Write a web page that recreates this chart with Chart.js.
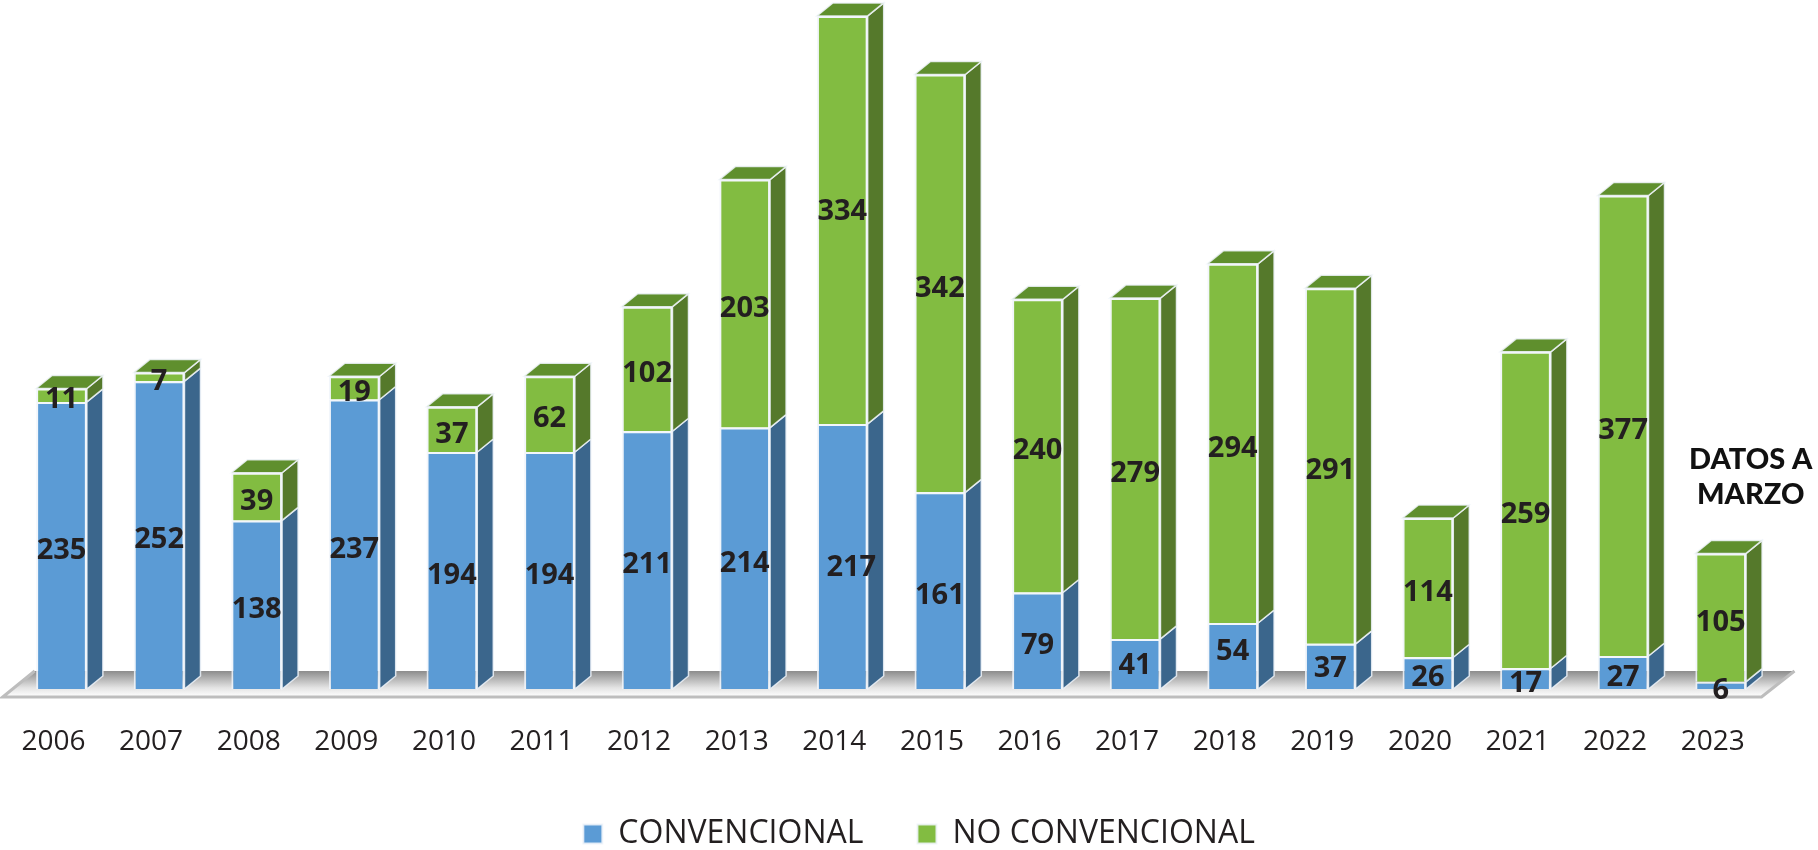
<!DOCTYPE html>
<html lang="es">
<head>
  <meta charset="UTF-8">
  <title>Convencional / No convencional</title>
  <script src="https://cdn.jsdelivr.net/npm/chart.js"></script>
  <style>
    html, body { margin: 0; padding: 0; background: #fff; }
    canvas { display: block; }
  </style>
</head>
<body>
  <canvas id="chart" width="1818" height="850"></canvas>

  <script>
    const years = ['2006','2007','2008','2009','2010','2011','2012','2013','2014','2015','2016','2017','2018','2019','2020','2021','2022','2023'];
    const convencional = [235,252,138,237,194,194,211,214,217,161,79,41,54,37,26,17,27,6];
    const noConvencional = [11,7,39,19,37,62,102,203,334,342,240,279,294,291,114,259,377,105];
    const noteLines = ['DATOS A', 'MARZO'];

    const BLUE = '#5b9bd5', BLUE_SIDE = '#3b668c';
    const GREEN = '#82bc41', GREEN_SIDE = '#55792b', GREEN_TOP = '#5f8f2d';
    const EDGE = 'rgba(240,245,250,0.85)';
    const DEPTH_X = 16, DEPTH_Y = 13;

    // a few labels are not centred on their segment in the original: 'dataset-index': [dx, dy]
    const labelNudges = { '0-8': [9, 6], '1-8': [0, -13], '0-12': [0, -9], '0-11': [0, -3], '0-13': [0, -3] };

    function poly(ctx, pts, fill) {
      ctx.beginPath();
      pts.forEach((p, i) => i ? ctx.lineTo(p[0], p[1]) : ctx.moveTo(p[0], p[1]));
      ctx.closePath();
      ctx.fillStyle = fill;
      ctx.fill();
      ctx.strokeStyle = EDGE;
      ctx.lineWidth = 1.5;
      ctx.stroke();
    }

    // floor + side/top faces of the columns, behind the flat bars
    const fake3d = {
      id: 'fake3d',
      afterLayout(chart) {
        // legend sits right of centre and low in the original
        chart.legend.left += 28;
        chart.legend.right += 28;
        chart.legend.top += 10;
        chart.legend.bottom += 10;
      },
      beforeDatasetsDraw(chart) {
        const { ctx, chartArea } = chart;
        const b = chartArea.bottom;
        ctx.save();
        const grad = ctx.createLinearGradient(0, b - 18, 0, b + 8);
        grad.addColorStop(0, '#8c8c8c');
        grad.addColorStop(0.65, '#e4e4e4');
        grad.addColorStop(1, '#ffffff');
        ctx.beginPath();
        ctx.moveTo(chartArea.left - 10, b + 8);
        ctx.lineTo(chartArea.left + 22, b - 18);
        ctx.lineTo(chartArea.right + 25, b - 18);
        ctx.lineTo(chartArea.right - 8, b + 8);
        ctx.closePath();
        ctx.fillStyle = grad;
        ctx.fill();
        ctx.strokeStyle = '#bdbdbd';
        ctx.lineWidth = 3;
        ctx.beginPath();
        ctx.moveTo(chartArea.left + 22, b - 18);
        ctx.lineTo(chartArea.left - 10, b + 8);
        ctx.lineTo(chartArea.right - 8, b + 8);
        ctx.lineTo(chartArea.right + 25, b - 18);
        ctx.stroke();

        chart.data.datasets.forEach((ds, d) => {
          chart.getDatasetMeta(d).data.forEach(bar => {
            const r = bar.x + bar.width / 2, l = bar.x - bar.width / 2;
            poly(ctx, [[r, bar.y], [r + DEPTH_X, bar.y - DEPTH_Y], [r + DEPTH_X, bar.base - DEPTH_Y], [r, bar.base]],
              d === 0 ? BLUE_SIDE : GREEN_SIDE);
            if (d === 1) {
              poly(ctx, [[l, bar.y], [l + DEPTH_X, bar.y - DEPTH_Y], [r + DEPTH_X, bar.y - DEPTH_Y], [r, bar.y]], GREEN_TOP);
            }
          });
        });
        ctx.restore();
      },
      afterDatasetsDraw(chart) {
        const { ctx } = chart;
        ctx.save();
        ctx.textAlign = 'center';
        ctx.textBaseline = 'middle';
        ctx.fillStyle = '#231f20';
        ctx.font = 'bold 29px "Open Sans"';
        chart.data.datasets.forEach((ds, d) => {
          chart.getDatasetMeta(d).data.forEach((bar, i) => {
            const nudge = labelNudges[d + '-' + i] || [0, 0];
            ctx.fillText(ds.data[i], bar.x + nudge[0], (bar.y + bar.base) / 2 + 5 + nudge[1]);
          });
        });
        // note above the last column
        const last = chart.getDatasetMeta(1).data[years.length - 1];
        ctx.fillStyle = '#111';
        ctx.font = '900 29px Lato';
        noteLines.forEach((t, i) => ctx.fillText(t, last.x + 30, last.y - 94 + i * 35));
        ctx.restore();
      }
    };

    new Chart(document.getElementById('chart'), {
      type: 'bar',
      plugins: [fake3d],
      data: {
        labels: years,
        datasets: [
          { label: 'CONVENCIONAL', data: convencional, backgroundColor: BLUE, borderColor: EDGE, borderWidth: 2 },
          { label: 'NO CONVENCIONAL', data: noConvencional, backgroundColor: GREEN, borderColor: EDGE, borderWidth: 2 }
        ]
      },
      options: {
        responsive: false,
        animation: false,
        devicePixelRatio: 1,
        layout: { padding: { left: 12.7, right: 48.5, top: 0, bottom: 0 } },
        datasets: { bar: { barPercentage: 0.52, categoryPercentage: 1 } },
        scales: {
          x: {
            stacked: true,
            grid: { display: false, drawTicks: false },
            border: { display: false },
            ticks: { padding: 36, labelOffset: -8, color: '#231f20', font: { family: '"Open Sans"', size: 28 }, maxRotation: 0, autoSkip: false },
            afterFit(scale) {
              scale.height = 65;
              scale.paddingLeft = 0;
              scale.paddingRight = 0;
            }
          },
          y: { stacked: true, display: false, min: 0, max: 564 }
        },
        plugins: {
          tooltip: { enabled: false },
          legend: {
            position: 'bottom',
            labels: {
              color: '#231f20',
              font: { family: '"Open Sans"', size: 32 },
              boxWidth: 19,
              boxHeight: 19,
              padding: 54
            }
          }
        }
      }
    });
  </script>
</body>
</html>
